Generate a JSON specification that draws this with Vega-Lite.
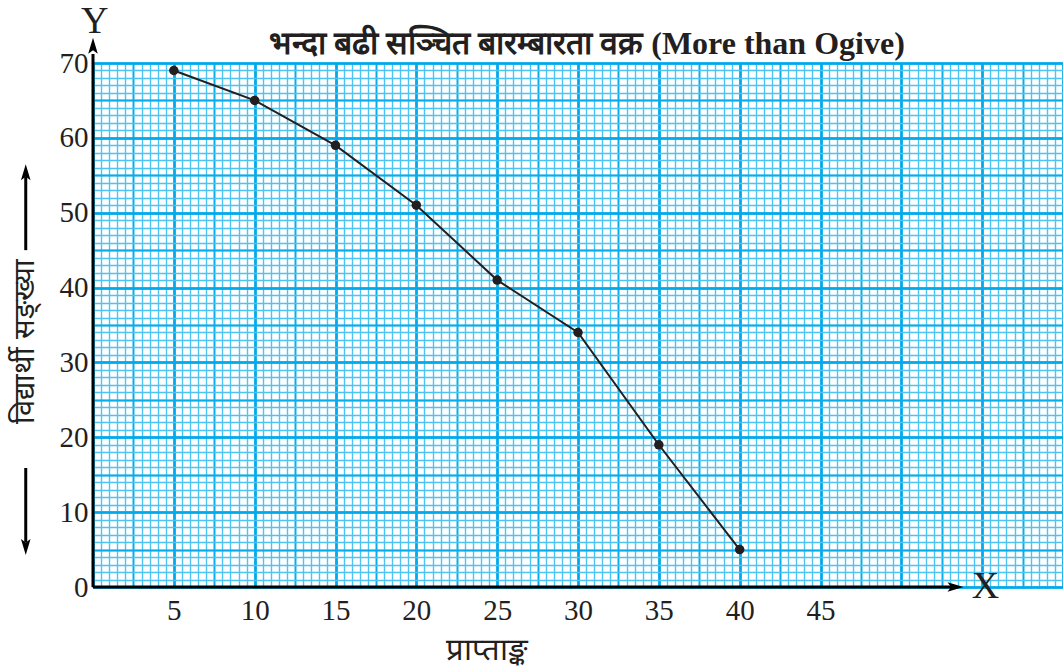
{
  "$schema": "https://vega.github.io/schema/vega-lite/v6.json",
  "width": 970,
  "height": 524,
  "autosize": "none",
  "padding": {"left": 93, "top": 63, "right": 0, "bottom": 83},
  "background": "white",
  "title": {
    "text": "भन्दा बढी सञ्चित बारम्बारता वक्र (More than Ogive)",
    "font": "Liberation Serif",
    "fontSize": 32,
    "fontWeight": "bold",
    "color": "#231f20",
    "anchor": "middle",
    "dx": 9,
    "offset": -58
  },
  "config": {
    "view": {"stroke": null},
    "font": "Liberation Serif"
  },
  "datasets": {
    "ogive": [
      {"marks": 5, "students": 69},
      {"marks": 10, "students": 65},
      {"marks": 15, "students": 59},
      {"marks": 20, "students": 51},
      {"marks": 25, "students": 41},
      {"marks": 30, "students": 34},
      {"marks": 35, "students": 19},
      {"marks": 40, "students": 5}
    ],
    "axislines": [
      {"x": 0, "y": 0, "x2": 53.2, "y2": 0},
      {"x": 0, "y": 0, "x2": 0, "y2": 71.2},
      {"x": -4.16, "y": 45.0, "x2": -4.16, "y2": 54.8},
      {"x": -4.16, "y": 15.9, "x2": -4.16, "y2": 6.0}
    ],
    "arrowheads": [
      {"x": 53.35, "y": 0, "dir": "right"},
      {"x": 0, "y": 72.3, "dir": "up"},
      {"x": -4.16, "y": 55.4, "dir": "up"},
      {"x": -4.16, "y": 5.35, "dir": "down"}
    ],
    "axisletters": [
      {"x": 55.2, "y": 0, "t": "X"},
      {"x": 0.1, "y": 75.5, "t": "Y"}
    ]
  },
  "resolve": {"axis": {"x": "independent", "y": "independent"}},
  "layer": [
    {
      "data": {"name": "ogive"},
      "mark": {"type": "point", "opacity": 0},
      "encoding": {
        "x": {"field": "marks", "type": "quantitative", "scale": {"domain": [0, 60], "nice": false, "zero": false},
          "axis": {"orient": "bottom", "grid": true, "gridColor": "#4cc3f0", "gridWidth": 1.4, "tickCount": 120, "labels": false, "ticks": false, "domain": false, "title": null}},
        "y": {"field": "students", "type": "quantitative", "scale": {"domain": [0, 70], "nice": false, "zero": false},
          "axis": {"orient": "left", "grid": true, "gridColor": "#4cc3f0", "gridWidth": 1.4, "tickCount": 70, "labels": false, "ticks": false, "domain": false, "title": null}}
      }
    },
    {
      "data": {"name": "ogive"},
      "mark": {"type": "point", "opacity": 0},
      "encoding": {
        "x": {"field": "marks", "type": "quantitative",
          "axis": {"orient": "bottom", "grid": true, "gridColor": "#06acec", "gridWidth": 1.8, "values": [0,2.5,5,7.5,10,12.5,15,17.5,20,22.5,25,27.5,30,32.5,35,37.5,40,42.5,45,47.5,50,52.5,55,57.5,60], "labels": false, "ticks": false, "domain": false, "title": null}},
        "y": {"field": "students", "type": "quantitative",
          "axis": {"orient": "left", "grid": true, "gridColor": "#06acec", "gridWidth": 1.8, "values": [0,5,10,15,20,25,30,35,40,45,50,55,60,65,70], "labels": false, "ticks": false, "domain": false, "title": null}}
      }
    },
    {
      "data": {"name": "ogive"},
      "mark": {"type": "point", "opacity": 0},
      "encoding": {
        "x": {"field": "marks", "type": "quantitative",
          "axis": {"orient": "bottom", "grid": true, "gridColor": "#00a9eb", "gridWidth": 2.6, "values": [0,5,10,15,20,25,30,35,40,45,50,55,60],
            "labels": true, "labelExpr": "datum.value >= 5 && datum.value <= 45 ? datum.label : ''",
            "labelFont": "Liberation Serif", "labelFontSize": 29, "labelColor": "#231f20", "labelPadding": 9, "labelFlush": false, "labelOverlap": false,
            "ticks": false, "tickSize": 0, "domain": false,
            "title": "प्राप्ताङ्क", "titleFont": "Liberation Serif", "titleFontSize": 31, "titleFontWeight": "normal", "titleColor": "#231f20",
            "titleX": 393, "titleY": 48, "titleAlign": "center", "titleBaseline": "top"}},
        "y": {"field": "students", "type": "quantitative",
          "axis": {"orient": "left", "grid": true, "gridColor": "#00a9eb", "gridWidth": 2.6, "values": [0,10,20,30,40,50,60,70],
            "labels": true, "labelFont": "Liberation Serif", "labelFontSize": 29, "labelColor": "#231f20", "labelPadding": 5, "labelFlush": false, "labelOverlap": false,
            "ticks": false, "tickSize": 0, "domain": false,
            "title": "विद्यार्थी सङ्ख्या", "titleFont": "Liberation Serif", "titleFontSize": 29, "titleFontWeight": "normal", "titleColor": "#231f20",
            "titleX": -69, "titleY": 278, "titleAngle": -90, "titleAlign": "center", "titleBaseline": "middle"}}
      }
    },
    {
      "data": {"name": "axislines"},
      "mark": {"type": "rule", "color": "#000000", "strokeWidth": 3, "clip": false},
      "encoding": {
        "x": {"field": "x", "type": "quantitative", "axis": null},
        "y": {"field": "y", "type": "quantitative", "axis": null},
        "x2": {"field": "x2"},
        "y2": {"field": "y2"}
      }
    },
    {
      "data": {"name": "arrowheads"},
      "mark": {"type": "point", "filled": true, "color": "#000000", "opacity": 1, "clip": false, "size": 256},
      "encoding": {
        "x": {"field": "x", "type": "quantitative", "axis": null},
        "y": {"field": "y", "type": "quantitative", "axis": null},
        "shape": {"field": "dir", "type": "nominal", "legend": null,
          "scale": {"domain": ["right", "up", "down"], "range": ["M1,0L-1,-0.6L-0.55,0L-1,0.6Z", "M0,-1L0.6,1L0,0.55L-0.6,1Z", "M0,1L0.6,-1L0,-0.55L-0.6,-1Z"]}}
      }
    },
    {
      "data": {"name": "axisletters"},
      "mark": {"type": "text", "font": "Liberation Serif", "fontSize": 38, "color": "#231f20", "align": "center", "baseline": "middle", "clip": false},
      "encoding": {
        "x": {"field": "x", "type": "quantitative", "axis": null},
        "y": {"field": "y", "type": "quantitative", "axis": null},
        "text": {"field": "t"}
      }
    },
    {
      "data": {"name": "ogive"},
      "mark": {"type": "line", "color": "#231f20", "strokeWidth": 2},
      "encoding": {
        "x": {"field": "marks", "type": "quantitative", "axis": null},
        "y": {"field": "students", "type": "quantitative", "axis": null}
      }
    },
    {
      "data": {"name": "ogive"},
      "mark": {"type": "point", "filled": true, "color": "#231f20", "opacity": 1, "size": 90},
      "encoding": {
        "x": {"field": "marks", "type": "quantitative", "axis": null},
        "y": {"field": "students", "type": "quantitative", "axis": null}
      }
    }
  ]
}
